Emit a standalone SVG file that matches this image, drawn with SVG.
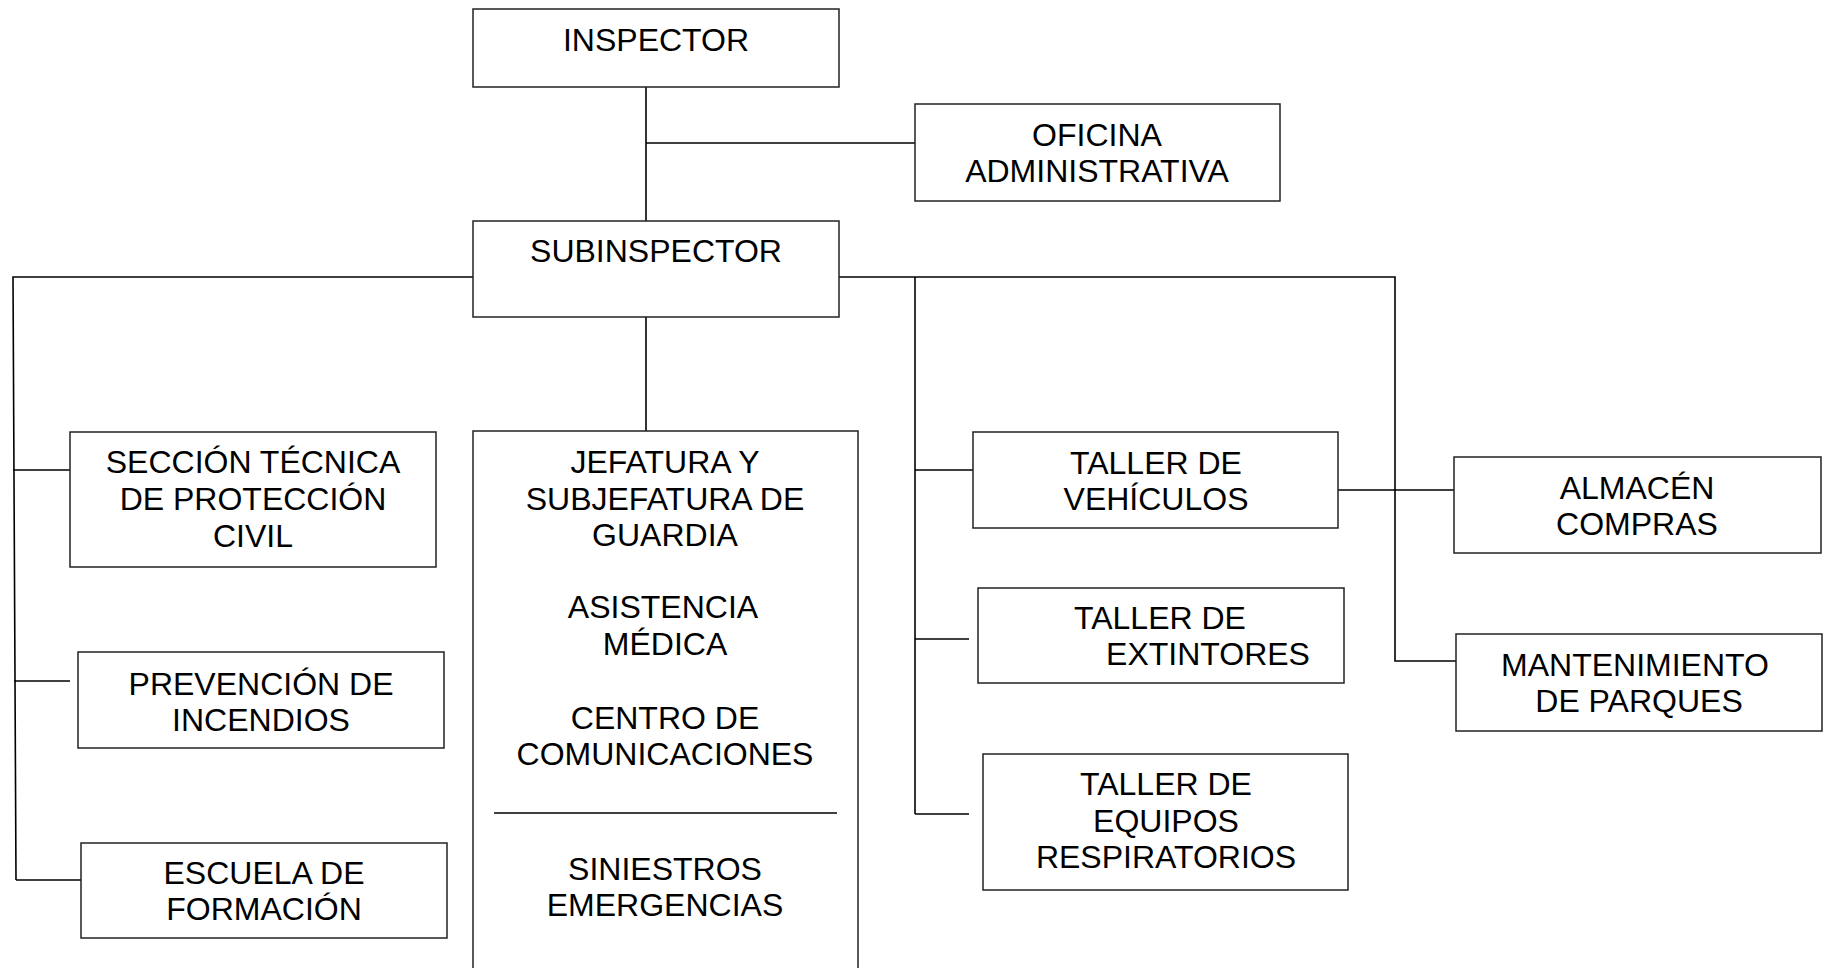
<svg xmlns="http://www.w3.org/2000/svg" width="1824" height="968" viewBox="0 0 1824 968">
<style>
.box{fill:#fff;stroke:#222;stroke-width:1.5}
.ln{stroke:#000;stroke-width:1.6;fill:none}
text{font-family:"Liberation Sans",Arial,sans-serif;font-size:32px;fill:#000;text-anchor:middle}
</style>
<rect width="1824" height="968" fill="#fff"/>
<g id="connectors">
<line class="ln" x1="646" y1="87" x2="646" y2="221"/>
<line class="ln" x1="646" y1="143" x2="915" y2="143"/>
<line class="ln" x1="646" y1="317" x2="646" y2="431"/>
<polyline class="ln" points="473,277 13,277 16,880"/>
<line class="ln" x1="13" y1="470" x2="70" y2="470"/>
<line class="ln" x1="14" y1="681" x2="70" y2="681"/>
<line class="ln" x1="16" y1="880" x2="81" y2="880"/>
<polyline class="ln" points="839,277 1395,277 1395,661 1456,661"/>
<line class="ln" x1="915" y1="277" x2="915" y2="814"/>
<line class="ln" x1="915" y1="470" x2="973" y2="470"/>
<line class="ln" x1="915" y1="639" x2="969" y2="639"/>
<line class="ln" x1="915" y1="814" x2="969" y2="814"/>
<line class="ln" x1="1338" y1="490" x2="1454" y2="490"/>
</g>
<g id="inspector">
<rect class="box" x="473" y="9" width="366" height="78"/>
<text x="656" y="51">INSPECTOR</text>
</g>
<g id="oficina">
<rect class="box" x="915" y="104" width="365" height="97"/>
<text x="1097" y="146">OFICINA</text>
<text x="1097" y="182">ADMINISTRATIVA</text>
</g>
<g id="subinspector">
<rect class="box" x="473" y="221" width="366" height="96"/>
<text x="656" y="262">SUBINSPECTOR</text>
</g>
<g id="seccion">
<rect class="box" x="70" y="432" width="366" height="135"/>
<text x="253" y="473">SECCIÓN TÉCNICA</text>
<text x="253" y="510">DE PROTECCIÓN</text>
<text x="253" y="547">CIVIL</text>
</g>
<g id="prevencion">
<rect class="box" x="78" y="652" width="366" height="96"/>
<text x="261" y="695">PREVENCIÓN DE</text>
<text x="261" y="731">INCENDIOS</text>
</g>
<g id="escuela">
<rect class="box" x="81" y="843" width="366" height="95"/>
<text x="264" y="884">ESCUELA DE</text>
<text x="264" y="920">FORMACIÓN</text>
</g>
<g id="jefatura">
<rect class="box" x="473" y="431" width="385" height="560"/>
<text x="665" y="473">JEFATURA Y</text>
<text x="665" y="510">SUBJEFATURA DE</text>
<text x="665" y="546">GUARDIA</text>
<text x="663" y="618">ASISTENCIA</text>
<text x="665" y="655">MÉDICA</text>
<text x="665" y="729">CENTRO DE</text>
<text x="665" y="765">COMUNICACIONES</text>
<line class="ln" x1="494" y1="813" x2="837" y2="813"/>
<text x="665" y="880">SINIESTROS</text>
<text x="665" y="916">EMERGENCIAS</text>
</g>
<g id="taller-vehiculos">
<rect class="box" x="973" y="432" width="365" height="96"/>
<text x="1156" y="474">TALLER DE</text>
<text x="1156" y="510">VEHÍCULOS</text>
</g>
<g id="taller-extintores">
<rect class="box" x="978" y="588" width="366" height="95"/>
<text x="1160" y="629">TALLER DE</text>
<text x="1208" y="665">EXTINTORES</text>
</g>
<g id="taller-equipos">
<rect class="box" x="983" y="754" width="365" height="136"/>
<text x="1166" y="795">TALLER DE</text>
<text x="1166" y="832">EQUIPOS</text>
<text x="1166" y="868">RESPIRATORIOS</text>
</g>
<g id="almacen">
<rect class="box" x="1454" y="457" width="367" height="96"/>
<text x="1637" y="499">ALMACÉN</text>
<text x="1637" y="535">COMPRAS</text>
</g>
<g id="mantenimiento">
<rect class="box" x="1456" y="634" width="366" height="97"/>
<text x="1635" y="676">MANTENIMIENTO</text>
<text x="1639" y="712">DE PARQUES</text>
</g>
</svg>
